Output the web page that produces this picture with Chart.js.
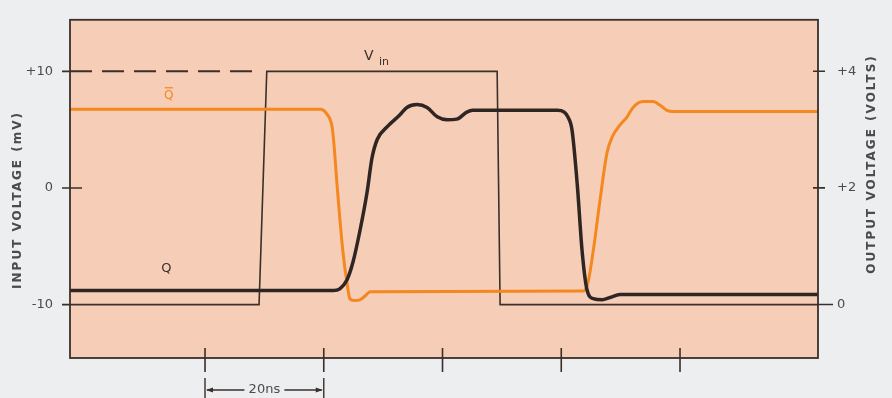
<!DOCTYPE html>
<html>
<head>
<meta charset="utf-8">
<script src="https://cdn.jsdelivr.net/npm/chart.js@4.4.1/dist/chart.umd.min.js"></script>
<style>
  html, body { margin: 0; padding: 0; background: #eceeef; }
  canvas { display: block; }
</style>
</head>
<body>
<canvas id="scope" width="892" height="398"></canvas>
<script>
// time axis in ns, ticks every 20 ns
const timeTicks = [20, 40, 60, 80, 100];
const inputTicks = [-10, 0, 10];   // mV
const outputTicks = [0, 2, 4];     // volts

// input pulse V_in (mV)
const vinTime = [-2.74, 29.1, 30.4, 69.2, 69.7, 123.24];
const vinMv = [-10, -10, 10, 10, -10, -10];
// dashed +10 mV reference
const refTime = [-2.74, 28.6];
const refMv = [10, 10];

// Q output (volts)
const qTime = [-2.74, 41.6, 42.7, 43.9, 44.9, 46.1, 47.3, 48.1, 49.0, 50.7, 52.8, 54.0, 55.7, 57.4, 59.1, 60.8, 62.4, 64.1, 65.1, 79.3, 80.5, 81.1, 81.8, 82.7, 83.5, 84.3, 85.4, 86.9, 88.2, 89.9, 123.24];
const qVolts = [0.24, 0.24, 0.27, 0.42, 0.72, 1.27, 1.93, 2.5, 2.83, 3.05, 3.25, 3.38, 3.43, 3.38, 3.22, 3.17, 3.18, 3.3, 3.33, 3.33, 3.3, 3.22, 3.0, 2.05, 0.93, 0.27, 0.1, 0.08, 0.12, 0.17, 0.17];

// Q-bar output (volts)
const qBarTime = [-2.74, 39.4, 40.5, 41.4, 41.7, 42.2, 43.2, 43.9, 44.4, 45.1, 46.1, 47.0, 47.8, 83.7, 84.5, 85.4, 86.5, 87.7, 88.6, 89.9, 91.1, 92.1, 93.8, 95.5, 96.6, 97.8, 98.8, 123.24];
const qBarVolts = [3.35, 3.35, 3.27, 3.05, 2.77, 2.1, 0.93, 0.38, 0.1, 0.07, 0.08, 0.15, 0.22, 0.23, 0.38, 0.93, 1.77, 2.6, 2.88, 3.08, 3.22, 3.38, 3.48, 3.48, 3.42, 3.33, 3.31, 3.31];

// trace labels: [ns, value]
const vinLabelAt = [47.6, 11.25];
const qLabelAt = [13.5, 0.61];
const qBarLabelAt = [13.9, 3.58];

const INK = '#3a2f2b';
const ORANGE = '#f5871f';
const TEXT = '#4b4b4b';
const FONT = '"DejaVu Sans", sans-serif';

const pts = (xs, ys) => xs.map((x, i) => ({ x: x, y: ys[i] }));

const scopeDecor = {
  id: 'scopeDecor',
  beforeDraw(chart) {
    const { ctx, chartArea: a } = chart;
    ctx.save();
    ctx.fillStyle = '#eceeef';
    ctx.fillRect(0, 0, chart.width, chart.height);
    ctx.fillStyle = '#f6cdb6';
    ctx.fillRect(a.left, a.top, a.right - a.left, a.bottom - a.top);
    ctx.restore();
  },
  afterDraw(chart) {
    const { ctx, chartArea: a, scales } = chart;
    const x = scales.x, y = scales.y, y1 = scales.y1;
    ctx.save();

    // frame
    ctx.strokeStyle = INK;
    ctx.lineWidth = 1.8;
    ctx.strokeRect(a.left, a.top, a.right - a.left, a.bottom - a.top);

    // tick marks crossing the frame
    ctx.lineWidth = 1.6;
    ctx.beginPath();
    timeTicks.forEach(t => {
      const px = x.getPixelForValue(t);
      ctx.moveTo(px, a.bottom - 10);
      ctx.lineTo(px, a.bottom + 14);
    });
    inputTicks.forEach(v => {
      const py = y.getPixelForValue(v);
      ctx.moveTo(a.left - 8, py);
      ctx.lineTo(a.left + (v === 0 ? 12 : 0), py);
    });
    outputTicks.forEach(v => {
      const py = y1.getPixelForValue(v);
      ctx.moveTo(a.right - (v === 0 ? 0 : 5), py);
      ctx.lineTo(a.right + (v === 0 ? 15 : 7), py);
    });
    ctx.stroke();

    // trace labels
    ctx.textBaseline = 'middle';
    ctx.textAlign = 'center';
    ctx.fillStyle = INK;
    let px = x.getPixelForValue(vinLabelAt[0]);
    let py = y.getPixelForValue(vinLabelAt[1]);
    ctx.font = '14px ' + FONT;
    ctx.fillText('V', px, py);
    ctx.font = '11px ' + FONT;
    ctx.textAlign = 'left';
    ctx.fillText('in', px + 10, py + 5);

    ctx.textAlign = 'center';
    ctx.font = '13px ' + FONT;
    px = x.getPixelForValue(qLabelAt[0]);
    py = y1.getPixelForValue(qLabelAt[1]);
    ctx.fillText('Q', px, py);

    ctx.fillStyle = ORANGE;
    ctx.strokeStyle = ORANGE;
    ctx.font = '12px ' + FONT;
    px = x.getPixelForValue(qBarLabelAt[0]);
    py = y1.getPixelForValue(qBarLabelAt[1]);
    ctx.fillText('Q', px, py);
    ctx.lineWidth = 1.3;
    ctx.beginPath();
    ctx.moveTo(px - 4, py - 8);
    ctx.lineTo(px + 4, py - 8);
    ctx.stroke();

    // axis titles
    ctx.fillStyle = TEXT;
    ctx.font = 'bold 12px ' + FONT;
    ctx.letterSpacing = '2px';
    ctx.textAlign = 'center';
    ctx.save();
    ctx.translate(18, (y.getPixelForValue(inputTicks[0]) + y.getPixelForValue(inputTicks[2])) / 2 + 12);
    ctx.rotate(-Math.PI / 2);
    ctx.fillText('INPUT VOLTAGE (mV)', 0, 0);
    ctx.restore();
    ctx.save();
    ctx.translate(872, (y1.getPixelForValue(outputTicks[0]) + y1.getPixelForValue(outputTicks[2])) / 2 - 24);
    ctx.rotate(-Math.PI / 2);
    ctx.fillText('OUTPUT VOLTAGE (VOLTS)', 0, 0);
    ctx.restore();
    ctx.letterSpacing = '0px';

    // 20 ns scale marker
    const x0 = x.getPixelForValue(timeTicks[0]);
    const x1 = x.getPixelForValue(timeTicks[1]);
    const my = a.bottom + 32;
    const mid = (x0 + x1) / 2;
    ctx.strokeStyle = INK;
    ctx.fillStyle = INK;
    ctx.lineWidth = 1.4;
    ctx.beginPath();
    ctx.moveTo(x0, a.bottom + 20); ctx.lineTo(x0, chart.height);
    ctx.moveTo(x1, a.bottom + 20); ctx.lineTo(x1, chart.height);
    ctx.moveTo(x0 + 2, my); ctx.lineTo(mid - 20, my);
    ctx.moveTo(mid + 20, my); ctx.lineTo(x1 - 2, my);
    ctx.stroke();
    ctx.beginPath();
    ctx.moveTo(x0 + 1, my); ctx.lineTo(x0 + 8, my - 2.5); ctx.lineTo(x0 + 8, my + 2.5); ctx.closePath();
    ctx.moveTo(x1 - 1, my); ctx.lineTo(x1 - 8, my - 2.5); ctx.lineTo(x1 - 8, my + 2.5); ctx.closePath();
    ctx.fill();
    ctx.fillStyle = TEXT;
    ctx.font = '13px ' + FONT;
    ctx.textAlign = 'center';
    ctx.fillText('20ns', mid, my);

    ctx.restore();
  }
};

new Chart(document.getElementById('scope'), {
  type: 'line',
  data: {
    datasets: [
      {
        label: 'Q',
        data: pts(qTime, qVolts),
        yAxisID: 'y1',
        borderColor: '#2f2623',
        borderWidth: 3.5,
        cubicInterpolationMode: 'monotone'
      },
      {
        label: 'Q bar',
        data: pts(qBarTime, qBarVolts),
        yAxisID: 'y1',
        borderColor: ORANGE,
        borderWidth: 3,
        cubicInterpolationMode: 'monotone'
      },
      {
        label: 'Vin',
        data: pts(vinTime, vinMv),
        yAxisID: 'y',
        borderColor: INK,
        borderWidth: 1.6,
        tension: 0
      },
      {
        label: '+10 mV',
        data: pts(refTime, refMv),
        yAxisID: 'y',
        borderColor: INK,
        borderWidth: 2,
        borderDash: [22, 10],
        tension: 0
      }
    ]
  },
  options: {
    responsive: false,
    devicePixelRatio: 1,
    animation: false,
    layout: { padding: { top: 10, left: 0, right: 0, bottom: 0 } },
    elements: { point: { radius: 0 } },
    plugins: { legend: { display: false }, tooltip: { enabled: false } },
    scales: {
      x: {
        type: 'linear',
        min: -2.74,
        max: 123.24,
        grid: { display: false },
        border: { display: false },
        ticks: { display: false },
        afterFit: s => { s.height = 40; }
      },
      y: {
        position: 'left',
        min: -14.58,
        max: 14.42,
        grid: { display: false, drawTicks: true, tickLength: 8 },
        border: { display: false },
        afterBuildTicks: s => { s.ticks = inputTicks.map(v => ({ value: v })); },
        ticks: {
          padding: 9,
          color: TEXT,
          font: { family: 'DejaVu Sans', size: 13 },
          callback: v => (v > 0 ? '+' + v : String(v))
        },
        afterFit: s => { s.width = 70; }
      },
      y1: {
        position: 'right',
        min: -0.917,
        max: 4.883,
        grid: { display: false, drawTicks: true, tickLength: 7 },
        border: { display: false },
        afterBuildTicks: s => { s.ticks = outputTicks.map(v => ({ value: v })); },
        ticks: {
          padding: 12,
          color: TEXT,
          font: { family: 'DejaVu Sans', size: 13 },
          callback: v => (v > 0 ? '+' + v : String(v))
        },
        afterFit: s => { s.width = 74; }
      }
    }
  },
  plugins: [scopeDecor]
});
</script>
</body>
</html>
